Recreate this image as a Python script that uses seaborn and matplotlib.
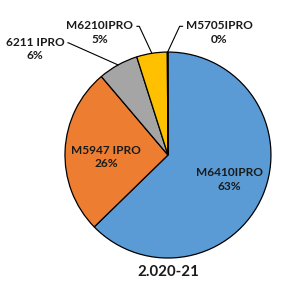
import matplotlib
matplotlib.use('Agg')
import matplotlib.pyplot as plt
import numpy as np
import seaborn as sns

# data
products = ['M6410IPRO', 'M5947 IPRO', '6211 IPRO', 'M6210IPRO', 'M5705IPRO']
shares = [62.7, 26.1, 6.3, 4.8, 0.1]
colors = ['#5B9BD5', '#ED7D31', '#A5A5A5', '#FFC000', '#4472C4']
title = '2.020-21'

sns.set_theme(style='white')
plt.rcParams['font.family'] = ['Lato', 'DejaVu Sans']

fig = plt.figure(figsize=(3.0, 3.01), dpi=100)
ax = fig.add_axes([0, 0, 1, 1])
ax.set_aspect('equal')
ax.axis('off')

wedges, _ = ax.pie(
    shares, colors=colors, startangle=90, counterclock=False,
    wedgeprops=dict(edgecolor='black', linewidth=0.9),
)
ax.set_xlim(-1.631, 1.282)
ax.set_ylim(-1.417, 1.505)

font = dict(fontsize=8.6, fontweight='bold', color='#1a1a1a', ha='center', va='center',
            linespacing=1.3)
labels = [f'{p}\n{s:.0f}%' for p, s in zip(products, shares)]

# inside labels
ax.text(0.60, -0.24, labels[0], **font)
ax.text(-0.60, -0.02, labels[1], **font)

# outside labels with leader lines to the wedge middles
outside = [
    (2, (-1.29, 1.03), (1, 0.75), -24),
    (3, (-0.66, 1.19), (1, 0.75), -65),
    (4, (0.50, 1.19), (0, 0.75), 65),
]
for i, pos, rel, ang in outside:
    w = wedges[i]
    mid = np.deg2rad((w.theta1 + w.theta2) / 2)
    ax.annotate(labels[i], xy=(np.cos(mid), np.sin(mid)), xytext=pos, **font,
                arrowprops=dict(arrowstyle='-', color='black', lw=0.8, relpos=rel,
                                shrinkA=0, shrinkB=0,
                                connectionstyle=f'angle,angleA=0,angleB={ang},rad=0'))

ax.text(0, -1.135, title, fontsize=10.8, fontweight='bold', color='#1a1a1a',
        ha='center', va='center')

fig.savefig('out.png', dpi=100)
